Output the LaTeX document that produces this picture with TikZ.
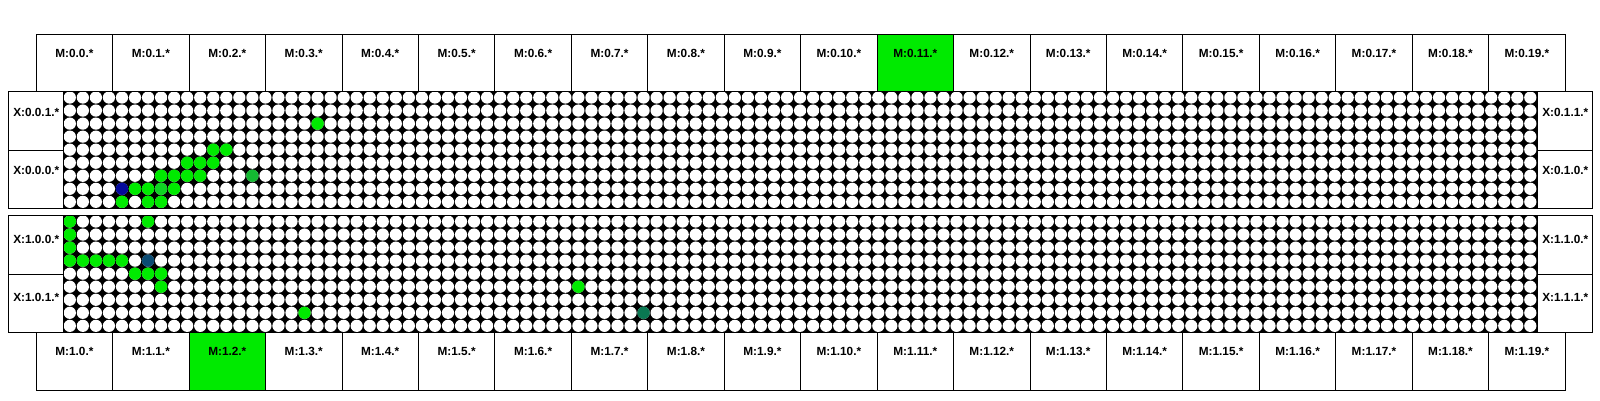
\documentclass[tikz,border=0pt]{standalone}
\usepackage{fontspec}
\setmainfont{Liberation Sans}
\definecolor{hl}{RGB}{0,234,0}
\definecolor{hlb}{RGB}{15,212,35}
\definecolor{dkgreen}{RGB}{20,185,50}
\definecolor{navy}{RGB}{5,10,155}
\definecolor{steel}{RGB}{10,75,115}
\definecolor{teal}{RGB}{10,120,82}
\begin{document}
\begin{tikzpicture}[x=1pt,y=-1pt,
  mbox/.style={draw=black, line width=0.9pt, minimum width=76.45pt, inner sep=0pt, anchor=north west},
  xbox/.style={draw=black, line width=0.9pt, minimum width=55pt, inner sep=0pt, anchor=north west},
  lab/.style={font=\bfseries\fontsize{11.8}{13}\selectfont, inner sep=0pt, anchor=center},
  cellc/.style={fill=white, draw=none}]
\useasboundingbox (0,0) rectangle (1600,400);
\fill[white] (0,0) rectangle (1600,400);
% grids: black ground with white round cells
\foreach \top in {91,215}{
  \fill[black] (63.3,\top) rectangle ++(1473.52,117.36);
  \path[cellc] \foreach \i in {0,...,112}{ \foreach \j in {0,...,8}{
      ({63.3+(\i+0.5)*13.04},{\top+(\j+0.5)*13.04}) circle (6.12) } };
}
% coloured cells, top block (col/row/colour)
\foreach \c/\r/\k in {19/2/hl, 11/4/hl, 12/4/hl, 9/5/hl, 10/5/hl, 11/5/hl,
    7/6/hl, 8/6/hl, 9/6/hl, 10/6/hl, 14/6/dkgreen,
    4/7/navy, 5/7/hl, 6/7/hl, 7/7/hlb, 8/7/hl, 4/8/hl, 6/8/hl, 7/8/hl}
  \fill[\k] ({63.3+(\c+0.5)*13.04},{91+(\r+0.5)*13.04}) circle (6.2);
% coloured cells, bottom block
\foreach \c/\r/\k in {0/0/hl, 6/0/hl, 0/1/hl, 0/2/hl,
    0/3/hl, 1/3/hl, 2/3/hl, 3/3/hl, 4/3/hl, 6/3/steel,
    5/4/hl, 6/4/hl, 7/4/hl, 7/5/hl, 39/5/hl, 18/7/hl, 44/7/teal}
  \fill[\k] ({63.3+(\c+0.5)*13.04},{215+(\r+0.5)*13.04}) circle (6.2);
% block frames
\draw[line width=0.9pt] (8.3,91) rectangle (1592.3,208.36);
\draw[line width=0.9pt] (8.3,215) rectangle (1592.3,332.36);
% X boxes
\node[xbox, minimum height=58.68pt, label={[lab,yshift=-21.7pt]north:{X:0.0.1.*}}] (xl01) at (8.3,91) {};
\node[xbox, minimum height=58.68pt, label={[lab,yshift=-21.2pt]north:{X:0.0.0.*}}] (xl00) at (8.3,149.68) {};
\node[xbox, minimum height=58.68pt, label={[lab,yshift=-21.7pt]north:{X:0.1.1.*}}] (xr11) at (1537.3,91) {};
\node[xbox, minimum height=58.68pt, label={[lab,yshift=-21.2pt]north:{X:0.1.0.*}}] (xr10) at (1537.3,149.68) {};
\node[xbox, minimum height=58.68pt, label={[lab,yshift=-24pt]north:{X:1.0.0.*}}] (xl10) at (8.3,215) {};
\node[xbox, minimum height=58.68pt, label={[lab,yshift=-23.5pt]north:{X:1.0.1.*}}] (xl11) at (8.3,273.68) {};
\node[xbox, minimum height=58.68pt, label={[lab,yshift=-24pt]north:{X:1.1.0.*}}] (xr10b) at (1537.3,215) {};
\node[xbox, minimum height=58.68pt, label={[lab,yshift=-23.5pt]north:{X:1.1.1.*}}] (xr11b) at (1537.3,273.68) {};
% M boxes
\foreach \i in {0,...,19}{
  \ifnum\i=11 \def\fc{hl}\else\def\fc{white}\fi
  \node[mbox, fill=\fc, minimum height=56.7pt, label={[lab,yshift=-19pt]north:{M:0.\i.*}}] (mt\i) at ({35.7+\i*76.45},34.3) {};
  \ifnum\i=2 \def\fc{hl}\else\def\fc{white}\fi
  \node[mbox, fill=\fc, minimum height=57.6pt, label={[lab,yshift=-19pt]north:{M:1.\i.*}}] (mb\i) at ({35.7+\i*76.45},332.36) {};
}
\end{tikzpicture}
\end{document}
